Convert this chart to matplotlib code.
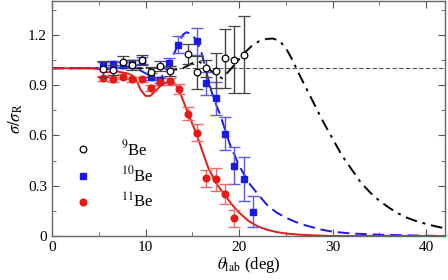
import numpy as np
import matplotlib
matplotlib.use("Agg")
import matplotlib.pyplot as plt

plt.rcParams["font.family"] = ["Liberation Serif", "DejaVu Serif"]
plt.rcParams["mathtext.fontset"] = "stix"

# data points
x_9 = [5.45, 6.5, 7.55, 8.55, 9.6, 10.6, 11.6, 12.6, 14.5, 15.5, 16.5, 17.5, 18.5, 19.5, 20.5]
y_9 = [0.995, 0.99, 1.04, 1.02, 1.05, 0.98, 1.015, 0.985, 1.085, 0.975, 1.0, 0.985, 1.06, 1.05, 1.08]
e_9 = [0.05, 0.03, 0.03, 0.03, 0.03, 0.03, 0.03, 0.03, 0.06, 0.1, 0.05, 0.105, 0.175, 0.2, 0.23]

x_10 = [5.45, 6.5, 7.55, 8.55, 9.6, 10.6, 11.6, 12.5, 13.5, 15.5, 16.5, 17.5, 18.5, 19.5, 20.5, 21.45]
y_10 = [1.02, 1.025, 1.02, 1.03, 1.045, 0.95, 0.93, 1.03, 1.14, 1.16, 0.91, 0.82, 0.61, 0.42, 0.34, 0.145]
e_10 = [0.02, 0.02, 0.02, 0.02, 0.02, 0.02, 0.02, 0.03, 0.05, 0.08, 0.07, 0.1, 0.1, 0.11, 0.13, 0.094]

x_11 = [5.45, 6.5, 7.55, 8.55, 9.6, 10.6, 11.6, 12.6, 13.6, 14.55, 15.5, 16.5, 17.5, 18.5, 19.5]
y_11 = [0.94, 0.935, 0.95, 0.935, 0.935, 0.883, 0.919, 0.922, 0.879, 0.73, 0.615, 0.343, 0.337, 0.248, 0.105]
e_11 = [0.015, 0.015, 0.015, 0.015, 0.015, 0.02, 0.02, 0.02, 0.03, 0.04, 0.05, 0.05, 0.07, 0.06, 0.05]

# calculated curves
cx_9 = [0, 5, 10, 12, 13, 14, 15, 15.7, 16.3, 17.3, 18.2, 19.2, 20.5, 21.3, 22.1, 23.0, 23.6,
        24.3, 25.0, 25.6, 26.2, 27.0, 28.0, 29.0, 30.0, 31.0, 32.0, 33.0, 34.0, 35.0, 36.0,
        37.0, 38.0, 39.0, 40.0, 41.0, 42.0]
cy_9 = [1.0, 1.0, 1.0, 1.0, 0.99, 1.0, 1.03, 1.04, 1.02, 0.97, 0.94, 1.0, 1.087, 1.13, 1.16,
        1.175, 1.177, 1.165, 1.12, 1.06, 0.99, 0.9, 0.79, 0.68, 0.58, 0.48, 0.4, 0.32, 0.26,
        0.21, 0.17, 0.135, 0.108, 0.088, 0.072, 0.058, 0.046]

cx_10 = [0, 4, 5, 6, 7, 8, 9, 10, 11, 11.5, 12, 12.5, 13, 13.6, 14.0, 14.4, 15, 15.5, 16, 16.5,
         17, 17.5, 18, 19, 20, 21, 22, 23, 24, 25, 26, 27, 28, 29, 30, 32, 35, 38, 42]
cy_10 = [1.0, 1.0, 1.0, 0.995, 1.0, 1.01, 1.0, 0.97, 0.94, 0.93, 0.97, 1.02, 1.08, 1.16, 1.2,
         1.215, 1.2, 1.16, 1.09, 0.98, 0.87, 0.79, 0.72, 0.55, 0.42, 0.32, 0.25, 0.185, 0.14,
         0.11, 0.085, 0.065, 0.05, 0.036, 0.026, 0.015, 0.008, 0.004, 0.0]

cx_11 = [0, 4, 5, 5.5, 6, 6.5, 7, 7.5, 8, 8.5, 9, 9.5, 10, 10.5, 11, 11.5, 12, 12.5, 13, 13.5,
         14, 14.56, 15.0, 15.5, 16.05, 16.75, 17.5, 18.0, 18.5, 19.2, 19.9, 20.5, 21, 22, 23,
         24, 25, 26.5, 28, 30, 42]
cy_11 = [1.0, 1.0, 0.995, 0.985, 0.975, 0.985, 0.98, 0.975, 0.97, 0.96, 0.93, 0.87, 0.835,
         0.835, 0.86, 0.89, 0.91, 0.92, 0.915, 0.88, 0.81, 0.73, 0.67, 0.6, 0.51, 0.4, 0.32,
         0.28, 0.245, 0.19, 0.145, 0.115, 0.09, 0.058, 0.037, 0.024, 0.015, 0.008, 0.004, 0.0, 0.0]

red = "#e61a14"
blue = "#1a1ae6"

fig = plt.figure(figsize=(4.48, 2.8), dpi=100)
ax = fig.add_axes([0.116, 0.157, 0.877, 0.839])

ax.axhline(1.0, color="#555555", lw=0.8, ls=(0, (4, 2)), zorder=1)
ax.plot(cx_9, cy_9, color="black", lw=1.4, ls=(0, (6, 3, 1.5, 3)), zorder=2)
ax.plot(cx_10, cy_10, color=blue, lw=1.4, ls=(0, (6, 3)), zorder=2)
ax.plot(cx_11, cy_11, color=red, lw=1.4, zorder=2)

ax.errorbar(x_9, y_9, yerr=e_9, fmt="o", mfc="white", mec="black", mew=0.9, ms=4.8,
            ecolor="#444444", elinewidth=1.0, capsize=4, capthick=1.0, zorder=4, label="$^{9}$Be")
ax.errorbar(x_10, y_10, yerr=e_10, fmt="s", color=blue, ms=4.3, ecolor="#5a5af0",
            elinewidth=1.0, capsize=4, capthick=1.0, zorder=3, label="$^{10}$Be")
ax.errorbar(x_11, y_11, yerr=e_11, fmt="o", color=red, ms=4.8, ecolor="#ee6a66",
            elinewidth=1.0, capsize=4, capthick=1.0, zorder=3, label="$^{11}$Be")

ax.set_xlim(0, 42)
ax.set_ylim(0, 1.4)
ax.set_xticks([0, 10, 20, 30, 40])
ax.set_xticks([5, 15, 25, 35], minor=True)
ax.set_yticks([0, 0.3, 0.6, 0.9, 1.2])
ax.set_yticklabels(["0", "0.3", "0.6", "0.9", "1.2"])
ax.set_yticks([0.15, 0.45, 0.75, 1.05, 1.35], minor=True)
ax.tick_params(which="both", direction="in", top=True, right=True, labelsize=11, color="#555555")
ax.tick_params(which="major", length=5)
ax.tick_params(which="minor", length=3)
for s in ax.spines.values():
    s.set_color("#666666")
    s.set_linewidth(1.0)

ax.set_xlabel(r"$\theta_{\mathrm{lab}}$ (deg)", fontsize=12, labelpad=1)
ax.set_ylabel(r"$\sigma/\sigma_{\mathrm{R}}$", fontsize=12, labelpad=2)

handles, labels = ax.get_legend_handles_labels()
handles = [h[0] for h in handles]
ax.legend(handles, labels, loc="lower left", bbox_to_anchor=(0.01, 0.04), frameon=False,
          fontsize=12, handletextpad=1.5, labelspacing=0.4, handlelength=1.5)

fig.savefig("out.png", dpi=100)
